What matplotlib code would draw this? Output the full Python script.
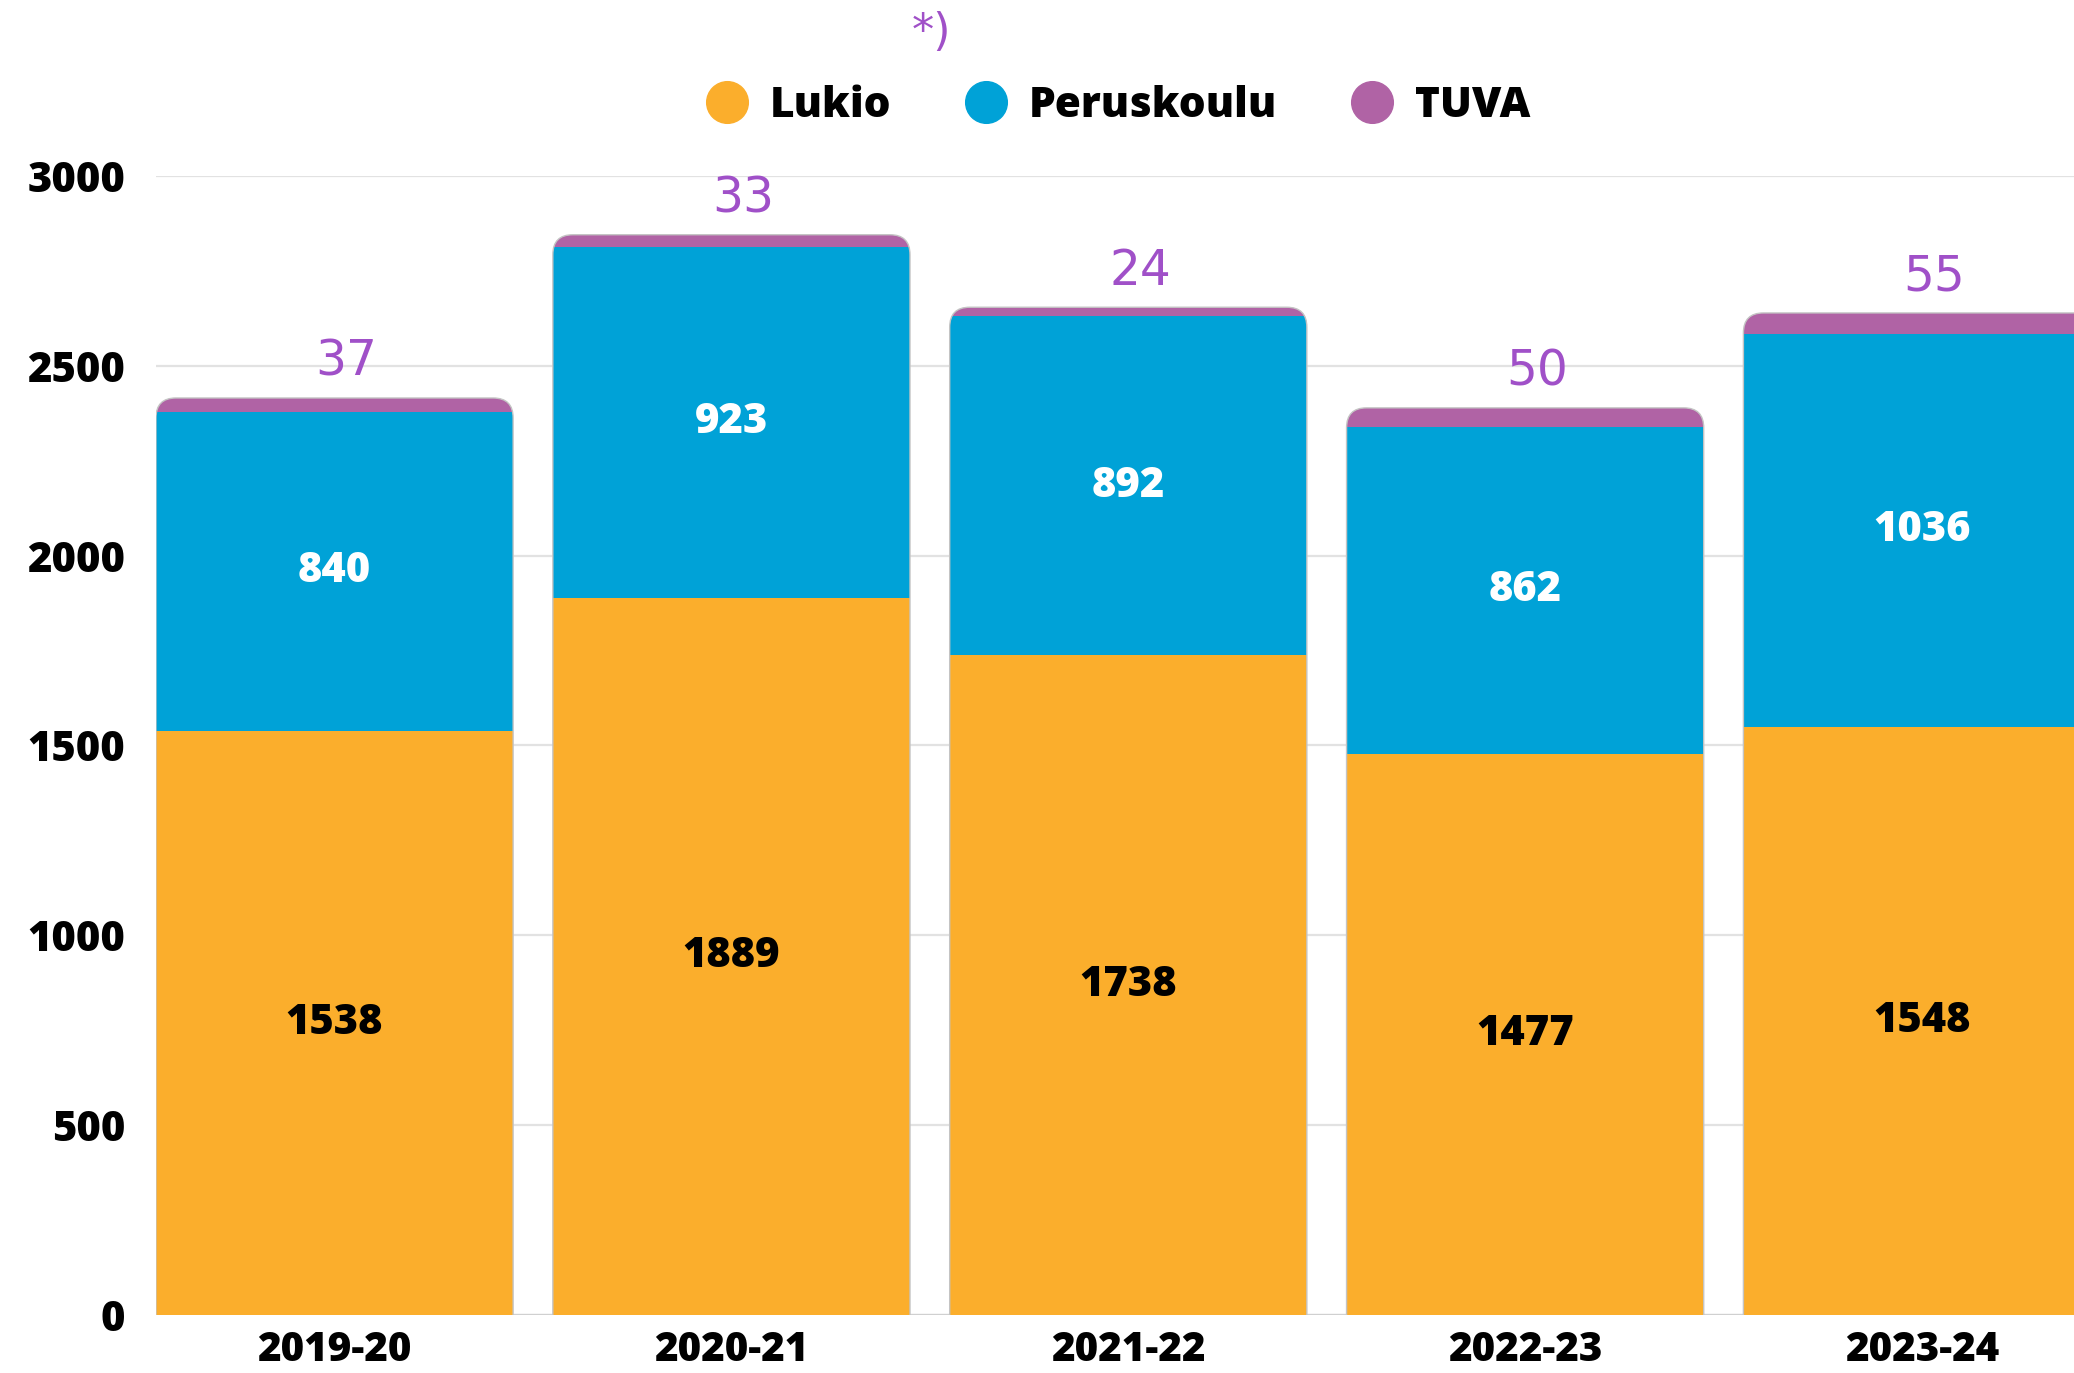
import matplotlib
matplotlib.use("Agg")
import matplotlib.pyplot as plt
from matplotlib.patches import FancyBboxPatch
from matplotlib.lines import Line2D
import numpy as np

years = ["2019-20", "2020-21", "2021-22", "2022-23", "2023-24"]
lukio = [1538, 1889, 1738, 1477, 1548]
peruskoulu = [840, 923, 892, 862, 1036]
tuva = [37, 33, 24, 50, 55]

C_LUKIO = "#FBAE2C"
C_PERUS = "#00A2D7"
C_TUVA = "#B063A5"
C_LABEL = "#A050C8"
W = "heavy"

plt.rcParams["font.family"] = ["Open Sans", "DejaVu Sans"]

fig = plt.figure(figsize=(20.74, 13.73), dpi=100)
ax = fig.add_axes([0.0752, 0.0424, 0.9248, 0.8295])
ax.set_xlim(-0.45, 4.383)
ax.set_ylim(0, 3000)

x = np.arange(len(years))
w = 0.9
lukio = np.array(lukio)
peruskoulu = np.array(peruskoulu)
tuva = np.array(tuva)
totals = lukio + peruskoulu + tuva

b1 = ax.bar(x, lukio, w, color=C_LUKIO, zorder=2)
b2 = ax.bar(x, peruskoulu, w, bottom=lukio, color=C_PERUS, zorder=2)
b3 = ax.bar(x, tuva, w, bottom=lukio + peruskoulu, color=C_TUVA, zorder=2)

# rounded top corners: clip each stack with a rounded box
px_x = ax.transData.transform((1, 0))[0] - ax.transData.transform((0, 0))[0]
px_y = ax.transData.transform((0, 1))[1] - ax.transData.transform((0, 0))[1]
r = 20 / px_x
aspect = px_x / px_y
for i in range(len(years)):
    clip = FancyBboxPatch((x[i] - w / 2, -400), w, totals[i] + 400,
                          boxstyle=f"round,pad=0,rounding_size={r}",
                          mutation_aspect=aspect, transform=ax.transData)
    for bars in (b1, b2, b3):
        bars[i].set_clip_path(clip)
    outline = FancyBboxPatch((x[i] - w / 2, -400), w, totals[i] + 400,
                             boxstyle=f"round,pad=0,rounding_size={r}",
                             mutation_aspect=aspect, facecolor="none",
                             edgecolor="#c4c4c4", linewidth=1.0, zorder=3)
    ax.add_patch(outline)

# labels
for i in range(len(years)):
    ax.text(x[i], lukio[i] / 2, str(lukio[i]), ha="center", va="center",
            fontsize=30, fontweight=W, color="black", zorder=4)
    ax.text(x[i], lukio[i] + peruskoulu[i] / 2, str(peruskoulu[i]),
            ha="center", va="center", fontsize=30, fontweight=W,
            color="white", zorder=4)
    ax.annotate(str(tuva[i]), (x[i] + 0.03, totals[i]), xytext=(0, 9),
                textcoords="offset points", ha="center", va="bottom",
                fontsize=35, color=C_LABEL, family="DejaVu Sans",
                annotation_clip=False)

ax.set_yticks(np.arange(0, 3001, 500))
ax.set_xticks(x)
ax.set_xticklabels(years)
ax.tick_params(axis="both", length=0, labelsize=30)
ax.tick_params(axis="y", pad=22)
ax.tick_params(axis="x", pad=11, labelsize=29)
for lab in ax.get_xticklabels() + ax.get_yticklabels():
    lab.set_fontweight(W)
ax.grid(axis="y", color="#e2e2e2", linewidth=1.6)
ax.set_axisbelow(True)
for s in ax.spines.values():
    s.set_visible(False)
ax.axhline(0, color="#d0d0d0", linewidth=1.6, zorder=1)

handles = [Line2D([], [], marker="o", linestyle="none", markersize=30,
                  markerfacecolor=c, markeredgecolor=c) for c in (C_LUKIO, C_PERUS, C_TUVA)]
fig.legend(handles, ["Lukio", "Peruskoulu", "TUVA"], loc="center",
           bbox_to_anchor=(0.539, 0.923), ncol=3, frameon=False,
           prop={"size": 30.5, "weight": W}, handlelength=1.0,
           handletextpad=0.5, columnspacing=1.75)

fig.text(0.449, 0.976, "*)", ha="center", va="center", fontsize=32,
         color=C_LABEL, family="DejaVu Sans")

fig.savefig("out.png", dpi=100)
